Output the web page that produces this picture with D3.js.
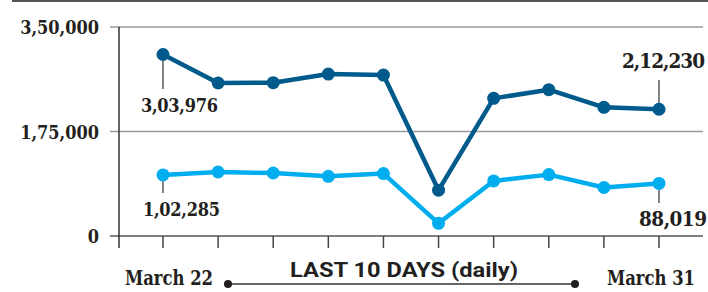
<!DOCTYPE html>
<html><head><meta charset="utf-8">
<script src="https://cdn.jsdelivr.net/npm/d3@7"></script>
<style>
html,body{margin:0;padding:0;background:#fff;}
svg{display:block;}
</style></head>
<body>
<svg id="c" width="708" height="292"></svg>
<script>
const days = ["March 22","March 23","March 24","March 25","March 26","March 27","March 28","March 29","March 30","March 31"];
const samplesTested = [303976, 256200, 256800, 271200, 269500, 76700, 230500, 245000, 215500, 212230];
const newCases = [102285, 107200, 105500, 100000, 104500, 21200, 92200, 102800, 81200, 88019];
const yTicks = [0, 175000, 350000];
const yTickLabels = ["0", "1,75,000", "3,50,000"];
const axisTitle = "LAST 10 DAYS (daily)";

const svg = d3.select("#c");
const serif = "'DejaVu Serif Condensed','DejaVu Serif',serif";
const x = d3.scalePoint().domain(d3.range(days.length)).range([163, 659]);
const y = d3.scaleLinear().domain([0, 350000]).range([236, 27]);

// top rule
svg.append("rect").attr("x", 12).attr("y", 0).attr("width", 696).attr("height", 2).attr("fill", "#555");

// gridlines
svg.append("g").selectAll("line").data(yTicks).join("line")
  .attr("x1", 110).attr("x2", 703)
  .attr("y1", d => y(d)).attr("y2", d => y(d))
  .attr("stroke", d => d === 0 ? "#555" : "#9a9a9a").attr("stroke-width", 1.5);

// y labels
svg.append("g").selectAll("text").data(yTicks).join("text")
  .attr("x", 99).attr("y", d => y(d)).attr("dy", "0.4em")
  .attr("text-anchor", "end")
  .attr("font-family", serif).attr("font-weight", "bold").attr("font-size", 18)
  .attr("fill", "#231f20")
  .text((d, i) => yTickLabels[i]);

// y axis line
svg.append("line").attr("x1", 119).attr("x2", 119).attr("y1", y(350000)).attr("y2", 248)
  .attr("stroke", "#333").attr("stroke-width", 1.5);

// x ticks
svg.append("g").selectAll("line").data(days).join("line")
  .attr("x1", (d, i) => x(i)).attr("x2", (d, i) => x(i))
  .attr("y1", y(0)).attr("y2", 248)
  .attr("stroke", "#444").attr("stroke-width", 1.5);

// leader lines
const leaders = [
  {x: x(0), y1: y(samplesTested[0]), y2: 89},
  {x: x(9), y1: y(samplesTested[9]), y2: 80},
  {x: x(0), y1: y(newCases[0]), y2: 193},
  {x: x(9), y1: y(newCases[9]), y2: 203}
];
svg.append("g").selectAll("line").data(leaders).join("line")
  .attr("x1", d => d.x).attr("x2", d => d.x).attr("y1", d => d.y1).attr("y2", d => d.y2)
  .attr("stroke", "#333").attr("stroke-width", 1.2);

function series(vals, color) {
  const g = svg.append("g");
  g.append("path").datum(vals)
    .attr("d", d3.line().x((d, i) => x(i)).y(d => y(d)))
    .attr("fill", "none").attr("stroke", color).attr("stroke-width", 4.5)
    .attr("stroke-linejoin", "round");
  g.selectAll("circle").data(vals).join("circle")
    .attr("cx", (d, i) => x(i)).attr("cy", d => y(d)).attr("r", 6.5).attr("fill", color);
}
series(samplesTested, "#005a8c");
series(newCases, "#00aeef");

const fmt = v => {
  const s = String(v);
  const last3 = s.slice(-3);
  let rest = s.slice(0, -3);
  const parts = [];
  while (rest.length > 2) { parts.unshift(rest.slice(-2)); rest = rest.slice(0, -2); }
  if (rest) parts.unshift(rest);
  return parts.length ? parts.join(",") + "," + last3 : last3;
};

// value labels
const lbls = [
  {v: samplesTested[0], x: 141, y: 112, a: "start", s: 18, w: 77},
  {v: samplesTested[9], x: 705, y: 68, a: "end", s: 20.5, w: 83},
  {v: newCases[0], x: 143, y: 216, a: "start", s: 18, w: 77},
  {v: newCases[9], x: 707, y: 226, a: "end", s: 20.5, w: 68}
];
svg.append("g").selectAll("text").data(lbls).join("text")
  .attr("x", d => d.x).attr("y", d => d.y).attr("text-anchor", d => d.a)
  .attr("font-family", serif).attr("font-weight", "bold").attr("font-size", d => d.s)
  .attr("textLength", d => d.w).attr("lengthAdjust", "spacing")
  .attr("fill", "#231f20").text(d => fmt(d.v));

// x end labels
[[0, 125], [9, 607]].forEach(([i, lx]) => {
  svg.append("text").attr("x", lx).attr("y", 285).attr("text-anchor", "start")
    .attr("font-family", serif).attr("font-weight", "bold").attr("font-size", 20.5)
    .attr("textLength", 88).attr("lengthAdjust", "spacingAndGlyphs")
    .attr("fill", "#231f20").text(days[i]);
});

// range indicator
svg.append("line").attr("x1", 228).attr("x2", 575).attr("y1", 284).attr("y2", 284)
  .attr("stroke", "#333").attr("stroke-width", 1.3);
svg.append("g").selectAll("circle").data([228, 575]).join("circle")
  .attr("cx", d => d).attr("cy", 284).attr("r", 4).attr("fill", "#231f20");
svg.append("text").attr("x", 290).attr("y", 277).attr("text-anchor", "start")
  .attr("font-family", "Roboto, 'Open Sans', sans-serif").attr("font-weight", "bold")
  .attr("font-size", 20).attr("textLength", 228).attr("lengthAdjust", "spacingAndGlyphs")
  .attr("fill", "#231f20").text(axisTitle);
</script>
</body></html>
